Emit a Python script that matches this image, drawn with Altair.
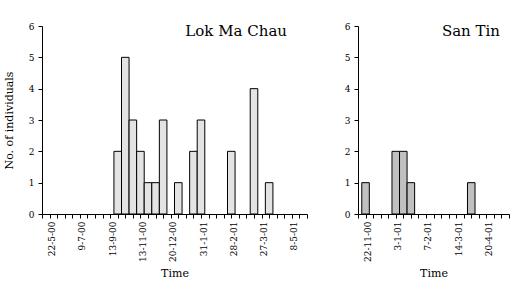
import altair as alt
import pandas as pd

# Lok Ma Chau: one value per sampling occasion (36 occasions, every 4th labelled)
lmc_counts = [0, 0, 0, 0, 0, 0, 0, 0, 0, 0,
              2, 5, 3, 2, 1, 1, 3, 0, 1, 0,
              2, 3, 0, 0, 0, 2, 0, 0, 4, 0,
              1, 0, 0, 0, 0, 0]
lmc_label_idx = [1, 5, 9, 13, 17, 21, 25, 29, 33]
lmc_labels = ["22-5-00", "9-7-00", "13-9-00", "13-11-00", "20-12-00",
              "31-1-01", "28-2-01", "27-3-01", "8-5-01"]

# San Tin: 21 sampling occasions
st_counts = [0, 1, 0, 0, 0, 2, 2, 1, 0, 0,
             0, 0, 0, 0, 0, 1, 0, 0, 0, 0, 0]
st_label_idx = [1, 5, 9, 13, 17]
st_labels = ["22-11-00", "3-1-01", "7-2-01", "14-3-01", "20-4-01"]

FONT = "DejaVu Serif"


def panel(counts, label_idx, labels, name, color, width, show_ytitle, title_x):
    df = pd.DataFrame({"idx": list(range(len(counts))), "count": counts})
    mapping = "{" + ",".join(f"'{i}':'{l}'" for i, l in zip(label_idx, labels)) + "}"
    n = len(counts) - 1
    xscale = alt.Scale(domain=[0, n], nice=False, zero=False)
    yscale = alt.Scale(domain=[0, 6], nice=False)
    base = alt.Chart(df).transform_filter("datum.count > 0").transform_calculate(
        x0="datum.idx - 0.5", x1="datum.idx + 0.5"
    )
    bars = base.mark_rect(fill=color, stroke="black", strokeWidth=1).encode(
        x=alt.X("x0:Q", scale=xscale,
                axis=alt.Axis(values=list(range(n + 1)),
                              labelExpr=f"{mapping}[datum.value] || ''",
                              labelAngle=270, labelAlign="right", labelBaseline="middle",
                              labelPadding=3, labelOffset=2, tickSize=4, title="Time",
                              titlePadding=6, labelFontSize=9, titleFontSize=11,
                              labelOverlap=False, labelBound=False)),
        x2="x1:Q",
        y=alt.Y("count:Q", scale=yscale,
                axis=alt.Axis(values=[0, 1, 2, 3, 4, 5, 6], tickSize=4,
                              labelPadding=4, labelFontSize=9,
                              title="No. of individuals" if show_ytitle else None,
                              titlePadding=14, titleFontSize=11)),
    )
    txt = alt.Chart(pd.DataFrame({"t": [name]})).mark_text(
        font=FONT, fontSize=15, align="right", baseline="alphabetic", color="black"
    ).encode(text="t:N", x=alt.value(title_x), y=alt.value(10))
    return alt.layer(bars, txt).properties(width=width, height=188)


left = panel(lmc_counts, lmc_label_idx, lmc_labels, "Lok Ma Chau", "#e3e3e3", 265, True, 245)
right = panel(st_counts, st_label_idx, st_labels, "San Tin", "#c0c0c0", 151, False, 142)

chart = alt.hconcat(left, right, spacing=30).properties(
    padding={"left": 3, "top": 22, "right": 5, "bottom": 5},
    background="white",
).configure_view(stroke=None).configure_axis(
    grid=False, domainColor="black", tickColor="black", labelColor="black",
    titleColor="black", labelFont=FONT, titleFont=FONT, titleFontWeight="normal",
    domainWidth=1, tickWidth=1
)

chart.save("out.html", embed_options={"renderer": "svg", "actions": False})
